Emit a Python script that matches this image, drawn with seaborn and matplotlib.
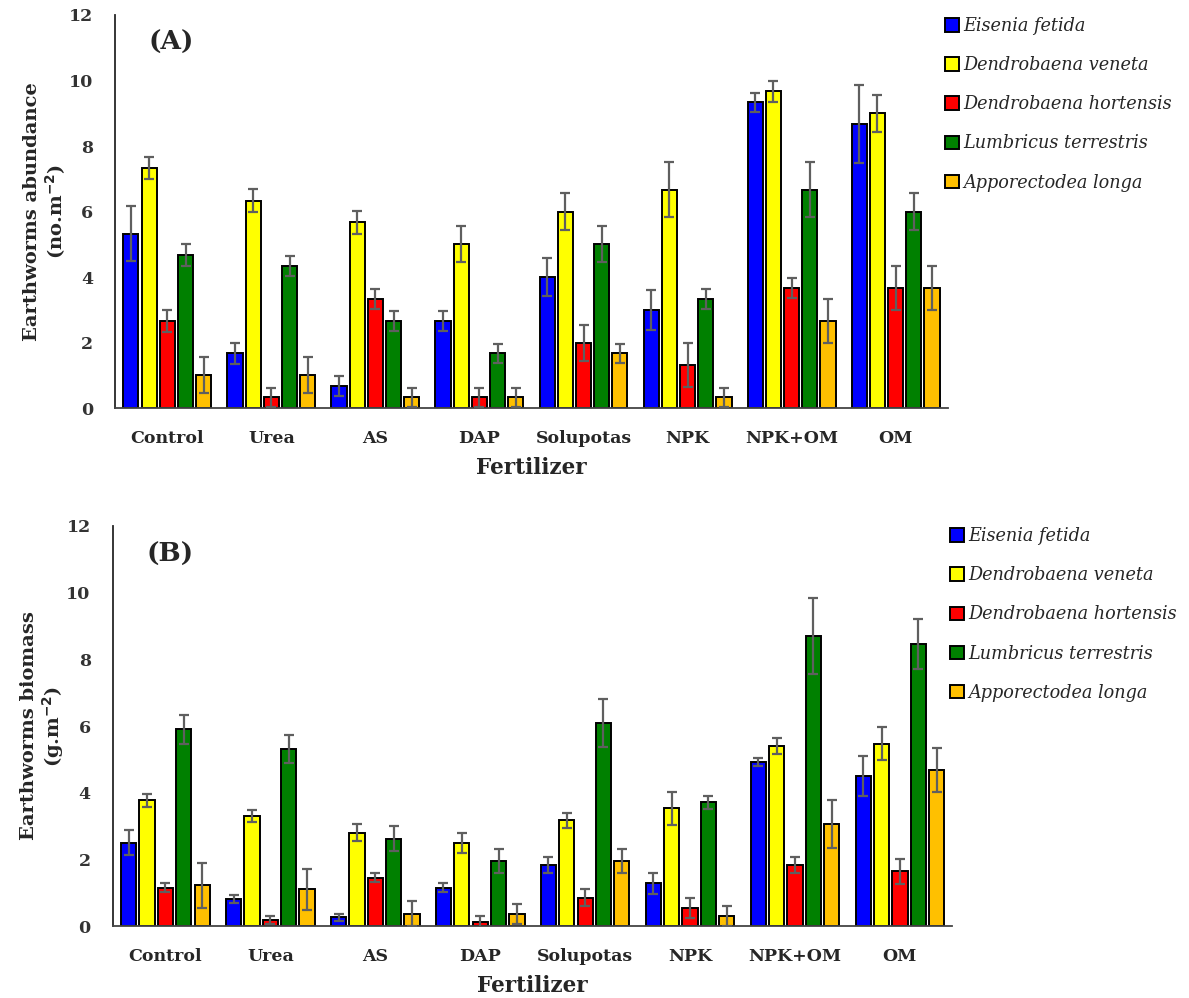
import numpy as np
import pandas as pd
import matplotlib
matplotlib.use("Agg")
import matplotlib.pyplot as plt
import seaborn as sns

# ================= DATA =================
FERTILIZERS = ["Control", "Urea", "AS", "DAP", "Solupotas", "NPK", "NPK+OM", "OM"]
SPECIES = ["Eisenia fetida", "Dendrobaena veneta", "Dendrobaena hortensis",
           "Lumbricus terrestris", "Apporectodea longa"]
COLORS = ["#0000FF", "#FFFF00", "#FF0000", "#008000", "#FFC000"]

# (A) abundance, no. m-2  (one list per species, ordered like FERTILIZERS)
abund_eisenia = [5.33, 1.67, 0.67, 2.67, 4.00, 3.00, 9.33, 8.67]
abund_veneta = [7.33, 6.33, 5.67, 5.00, 6.00, 6.67, 9.67, 9.00]
abund_hortensis = [2.67, 0.33, 3.33, 0.33, 2.00, 1.33, 3.67, 3.67]
abund_lumbricus = [4.67, 4.33, 2.67, 1.67, 5.00, 3.33, 6.67, 6.00]
abund_longa = [1.00, 1.00, 0.33, 0.33, 1.67, 0.33, 2.67, 3.67]

abund_err_eisenia = [0.85, 0.33, 0.30, 0.30, 0.57, 0.60, 0.30, 1.20]
abund_err_veneta = [0.33, 0.35, 0.35, 0.55, 0.56, 0.85, 0.33, 0.57]
abund_err_hortensis = [0.33, 0.30, 0.30, 0.30, 0.55, 0.67, 0.30, 0.67]
abund_err_lumbricus = [0.33, 0.30, 0.30, 0.30, 0.55, 0.30, 0.85, 0.56]
abund_err_longa = [0.55, 0.55, 0.30, 0.30, 0.30, 0.30, 0.67, 0.67]

# (B) biomass, g m-2
bio_eisenia = [2.50, 0.80, 0.26, 1.15, 1.83, 1.28, 4.92, 4.50]
bio_veneta = [3.77, 3.29, 2.80, 2.50, 3.17, 3.53, 5.41, 5.47]
bio_hortensis = [1.15, 0.19, 1.45, 0.12, 0.85, 0.55, 1.83, 1.64]
bio_lumbricus = [5.90, 5.30, 2.62, 1.95, 6.09, 3.71, 8.70, 8.45]
bio_longa = [1.22, 1.10, 0.37, 0.37, 1.95, 0.31, 3.05, 4.69]

bio_err_eisenia = [0.37, 0.12, 0.11, 0.14, 0.25, 0.31, 0.13, 0.61]
bio_err_veneta = [0.20, 0.18, 0.25, 0.30, 0.23, 0.49, 0.24, 0.49]
bio_err_hortensis = [0.14, 0.12, 0.14, 0.19, 0.25, 0.30, 0.25, 0.37]
bio_err_lumbricus = [0.44, 0.42, 0.37, 0.37, 0.73, 0.19, 1.15, 0.75]
bio_err_longa = [0.68, 0.62, 0.37, 0.30, 0.37, 0.30, 0.72, 0.66]


def make_long(means, errs):
    rows = []
    for sp, m_list, e_list in zip(SPECIES, means, errs):
        for fert, m, e in zip(FERTILIZERS, m_list, e_list):
            rows.append({"Fertilizer": fert, "Species": sp, "value": m, "err": e})
    return pd.DataFrame(rows)


df_a = make_long([abund_eisenia, abund_veneta, abund_hortensis, abund_lumbricus, abund_longa],
                 [abund_err_eisenia, abund_err_veneta, abund_err_hortensis,
                  abund_err_lumbricus, abund_err_longa])
df_b = make_long([bio_eisenia, bio_veneta, bio_hortensis, bio_lumbricus, bio_longa],
                 [bio_err_eisenia, bio_err_veneta, bio_err_hortensis,
                  bio_err_lumbricus, bio_err_longa])

# ================= STYLE =================
sns.set_style("white")
plt.rcParams["font.family"] = ["DejaVu Serif"]

fig = plt.figure(figsize=(11.89, 9.98), dpi=100)
ax_a = fig.add_axes([0.097, 0.591, 0.700, 0.394])
ax_b = fig.add_axes([0.095, 0.072, 0.706, 0.401])


def draw_panel(ax, df, ylabel, tag, leg_y):
    sns.barplot(data=df, x="Fertilizer", y="value", hue="Species",
                order=FERTILIZERS, hue_order=SPECIES, palette=COLORS,
                errorbar=None, width=0.875, gap=0.17, saturation=1,
                edgecolor="black", linewidth=1.4, ax=ax)

    # error bars placed on the bar patches (hue-major order)
    bars = ax.patches[:len(df)]
    for i, sp in enumerate(SPECIES):
        sub = df[df["Species"] == sp].set_index("Fertilizer").loc[FERTILIZERS]
        for j, fert in enumerate(FERTILIZERS):
            p = bars[i * len(FERTILIZERS) + j]
            xc = p.get_x() + p.get_width() / 2
            ax.errorbar(xc, sub.loc[fert, "value"], yerr=sub.loc[fert, "err"],
                        color="#5f5f5f", elinewidth=1.6, capsize=3.6,
                        capthick=1.6, zorder=5)

    ax.set_ylim(0, 12)
    ax.set_xlim(-0.5, 7.5)
    ax.set_yticks(np.arange(0, 13, 2))
    ax.tick_params(axis="y", direction="in", length=6, width=1.2,
                   labelsize=12.5, labelcolor="#333333", pad=16)
    ax.tick_params(axis="x", length=0, labelsize=12.5, pad=16)
    for lbl in ax.get_xticklabels() + ax.get_yticklabels():
        lbl.set_fontweight("bold")
    sns.despine(ax=ax)
    ax.spines["left"].set_linewidth(1.3)
    ax.spines["bottom"].set_linewidth(1.3)
    ax.spines["bottom"].set_color("#444444")

    ax.set_xlabel("Fertilizer", fontsize=15.5, fontweight="bold", labelpad=7)
    ax.set_ylabel(ylabel, fontsize=14, fontweight="bold", labelpad=0.5,
                  linespacing=1.1)
    ax.text(0.04, 0.93, tag, transform=ax.transAxes, fontsize=19,
            fontweight="bold", ha="left", va="center")

    handles, labels = ax.get_legend_handles_labels()
    ax.legend(handles, labels, loc="upper left", bbox_to_anchor=(0.997, leg_y),
              frameon=False, handlelength=0.8, handleheight=0.8,
              handletextpad=0.25, labelspacing=1.2, borderaxespad=0.0,
              borderpad=0.0,
              prop={"family": "DejaVu Serif", "style": "italic", "size": 12.7})


draw_panel(ax_a, df_a, "Earthworms abundance\n(no.m$^{\\mathbf{-2}}$)", "(A)", 0.995)
draw_panel(ax_b, df_b, "Earthworms biomass\n(g.m$^{\\mathbf{-2}}$)", "(B)", 0.997)

fig.savefig("out.png", dpi=100)
